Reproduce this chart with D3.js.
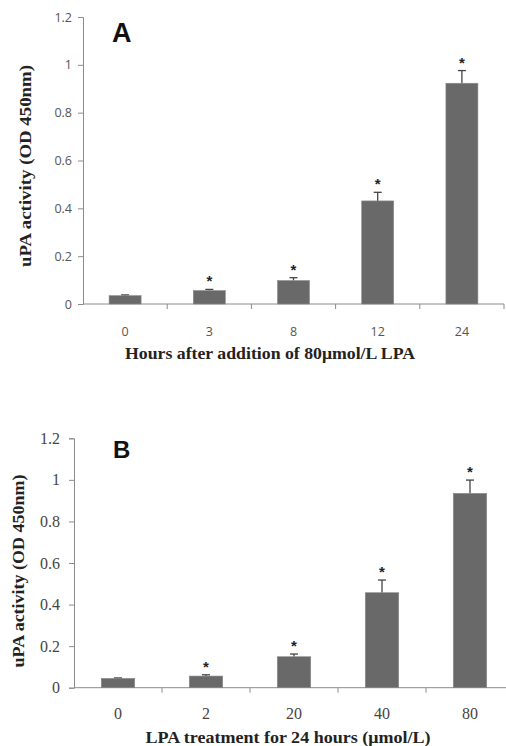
<!DOCTYPE html>
<html>
<head>
<meta charset="utf-8">
<script src="https://cdnjs.cloudflare.com/ajax/libs/d3/7.8.5/d3.min.js"></script>
<style>
  body { margin: 0; background: #fff; }
  svg { display: block; }
</style>
</head>
<body>
<div id="chart"></div>
<script>
// Graph Data
var yTicks = [0, 0.2, 0.4, 0.6, 0.8, 1, 1.2];

var hoursLabels = ["0", "3", "8", "12", "24"];
var hoursMeans = [0.035, 0.056, 0.098, 0.431, 0.923];
var hoursErrors = [0.003, 0.005, 0.012, 0.036, 0.053];
var hoursStars = [false, true, true, true, true];

var doseLabels = ["0", "2", "20", "40", "80"];
var doseMeans = [0.045, 0.056, 0.149, 0.457, 0.935];
var doseErrors = [0.002, 0.006, 0.013, 0.061, 0.064];
var doseStars = [false, true, true, true, true];

var chart = d3.select("#chart").append("svg")
    .attr("width", 506)
    .attr("height", 746);

function createPanel(opts) {
  var y = d3.scaleLinear().domain([0, 1.2]).range([opts.bottom, opts.top]);
  var x = d3.scaleBand().domain(opts.labels).range([opts.left, opts.right])
      .paddingInner(0).paddingOuter(0);
  var barW = x.bandwidth() * 0.38;

  var g = chart.append("g");

  // Axes
  var yAxis = d3.axisLeft(y).tickValues(yTicks).tickSize(5).tickPadding(opts.yPad)
      .tickFormat(function(d) { return d3.format("")(+d.toFixed(1)); });
  var yg = g.append("g")
      .attr("transform", "translate(" + opts.left + ",0)")
      .call(yAxis);
  yg.select(".domain").attr("stroke", "#8c8c8c");
  yg.selectAll(".tick line").attr("stroke", "#8c8c8c");
  yg.selectAll(".tick text")
      .attr("fill", opts.tickColor)
      .style("font-family", opts.tickFont)
      .style("font-size", opts.tickSize + "px");

  var xAxis = d3.axisBottom(x).tickSize(0).tickPadding(opts.xPad);
  var xg = g.append("g")
      .attr("transform", "translate(0," + opts.bottom + ")")
      .call(xAxis);
  xg.select(".domain").attr("stroke", "#8c8c8c").attr("d", "M" + opts.left + ",0H" + opts.right);
  xg.selectAll(".tick text")
      .attr("fill", opts.tickColor)
      .style("font-family", opts.tickFont)
      .style("font-size", opts.tickSize + "px");

  // Category boundary ticks
  g.append("g").selectAll("line")
      .data(opts.labels)
    .enter().append("line")
      .attr("x1", function(d) { return x(d) + x.bandwidth(); })
      .attr("x2", function(d) { return x(d) + x.bandwidth(); })
      .attr("y1", opts.bottom)
      .attr("y2", opts.bottom + 5)
      .attr("stroke", "#8c8c8c");

  // Error bars
  var errs = g.append("g").selectAll("g")
      .data(opts.labels)
    .enter().append("g");
  errs.append("line")
      .attr("x1", function(d) { return x(d) + x.bandwidth() / 2; })
      .attr("x2", function(d) { return x(d) + x.bandwidth() / 2; })
      .attr("y1", function(d, i) { return y(opts.means[i]); })
      .attr("y2", function(d, i) { return y(opts.means[i] + opts.errors[i]); })
      .attr("stroke", "#444")
      .attr("stroke-width", 1.3);
  errs.append("line")
      .attr("x1", function(d) { return x(d) + x.bandwidth() / 2 - 4; })
      .attr("x2", function(d) { return x(d) + x.bandwidth() / 2 + 4; })
      .attr("y1", function(d, i) { return y(opts.means[i] + opts.errors[i]); })
      .attr("y2", function(d, i) { return y(opts.means[i] + opts.errors[i]); })
      .attr("stroke", "#444")
      .attr("stroke-width", 1.3);

  // Bars
  g.append("g").selectAll("rect")
      .data(opts.labels)
    .enter().append("rect")
      .attr("x", function(d) { return x(d) + (x.bandwidth() - barW) / 2; })
      .attr("y", function(d, i) { return y(opts.means[i]); })
      .attr("width", barW)
      .attr("height", function(d, i) { return y(0) - y(opts.means[i]); })
      .attr("fill", "#696969")
      .attr("stroke", "#8a8a8a")
      .attr("stroke-width", 0.6);

  // Significance stars
  g.append("g").selectAll("text")
      .data(opts.labels.filter(function(d, i) { return opts.stars[i]; }))
    .enter().append("text")
      .attr("x", function(d) { return x(d) + x.bandwidth() / 2; })
      .attr("y", function(d) {
        var i = opts.labels.indexOf(d);
        return y(opts.means[i] + opts.errors[i]) - 3;
      })
      .attr("text-anchor", "middle")
      .style("font-family", "Liberation Sans, Arial, sans-serif")
      .style("font-weight", "bold")
      .style("font-size", "15px")
      .attr("fill", "#222")
      .text("*");

  // Panel letter
  g.append("text")
      .attr("x", opts.letterX)
      .attr("y", opts.letterY)
      .style("font-family", "Liberation Sans, Arial, sans-serif")
      .style("font-weight", "bold")
      .style("font-size", opts.letterSize + "px")
      .attr("fill", "#111")
      .text(opts.letter);

  // Axis titles
  g.append("text")
      .attr("transform", "translate(" + opts.yTitleX + "," + opts.yTitleY + ") rotate(-90)")
      .attr("text-anchor", "middle")
      .attr("textLength", opts.yTitleLen)
      .attr("lengthAdjust", "spacingAndGlyphs")
      .style("font-family", "Liberation Serif, Times New Roman, serif")
      .style("font-weight", "bold")
      .style("font-size", opts.titleSize + "px")
      .attr("fill", "#222")
      .text("uPA activity (OD 450nm)");

  g.append("text")
      .attr("x", opts.xTitleX)
      .attr("y", opts.xTitleY)
      .attr("text-anchor", "middle")
      .attr("textLength", opts.xTitleLen)
      .attr("lengthAdjust", "spacingAndGlyphs")
      .style("font-family", "Liberation Serif, Times New Roman, serif")
      .style("font-weight", "bold")
      .style("font-size", opts.titleSize + "px")
      .attr("fill", "#222")
      .text(opts.xTitle);
}

createPanel({
  labels: hoursLabels, means: hoursMeans, errors: hoursErrors, stars: hoursStars,
  left: 83, right: 504, top: 17, bottom: 304,
  tickFont: "Open Sans, sans-serif", tickSize: 12.5, tickColor: "#555", yPad: 6, xPad: 23,
  letter: "A", letterX: 112, letterY: 42, letterSize: 27,
  yTitleX: 31, yTitleY: 166, yTitleLen: 202, titleSize: 17,
  xTitle: "Hours after addition of 80\u03bcmol/L LPA", xTitleX: 270, xTitleY: 359, xTitleLen: 290
});

createPanel({
  labels: doseLabels, means: doseMeans, errors: doseErrors, stars: doseStars,
  left: 74, right: 514, top: 438.3, bottom: 687.7,
  tickFont: "Liberation Serif, serif", tickSize: 16, tickColor: "#444", yPad: 9, xPad: 20,
  letter: "B", letterX: 113, letterY: 458, letterSize: 24,
  yTitleX: 24, yTitleY: 571, yTitleLen: 193, titleSize: 16.5,
  xTitle: "LPA treatment for 24 hours (\u03bcmol/L)", xTitleX: 288, xTitleY: 743, xTitleLen: 285
});
</script>
</body>
</html>
